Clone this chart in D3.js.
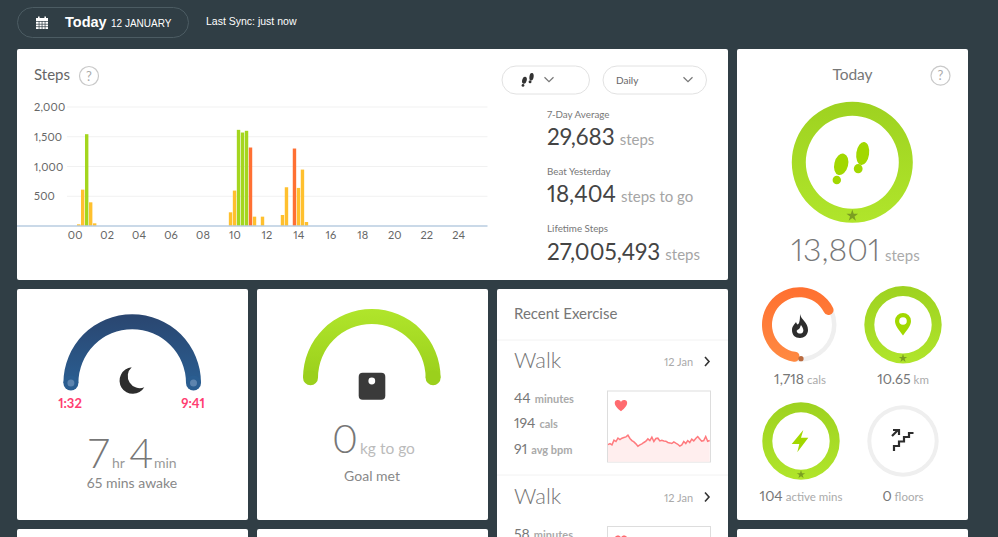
<!DOCTYPE html>
<html>
<head>
<meta charset="utf-8">
<script src="https://cdn.jsdelivr.net/npm/d3@7"></script>
<style>
  html, body { margin: 0; padding: 0; background: #303e45; overflow: hidden; }
  svg { display: block; }
  text { font-family: Lato, "Open Sans", sans-serif; font-variant-numeric: proportional-nums; }
  .head { font-family: "Liberation Sans", Arial, sans-serif; fill: #fff; }
  .axis path, .axis line { stroke: none; }
  .axis text { font-family: Lato, sans-serif; font-size: 11px; fill: #666; letter-spacing: 0.2px; }
</style>
</head>
<body>
<svg id="page" width="998" height="537"></svg>
<script>
// steps per 15 minutes, hour of day on the x axis
var stepHours = [0.25, 0.5, 0.75, 1, 1.25, 9.75, 10, 10.25, 10.5, 10.75, 11, 11.25, 11.75, 13, 13.25, 13.75, 14, 14.25, 14.5];
var stepValues = [28, 611, 1543, 398, 45, 230, 595, 1616, 1571, 1600, 1319, 157, 157, 185, 651, 1302, 640, 948, 67];
var stepTicks = [500, 1000, 1500, 2000];
var hourTicks = [0, 2, 4, 6, 8, 10, 12, 14, 16, 18, 20, 22, 24];

var statLabels = ["7-Day Average", "Beat Yesterday", "Lifetime Steps"];
var statValues = ["29,683", "18,404", "27,005,493"];
var statUnits = ["steps", "steps to go", "steps"];

// heart rate of the first walk
var heartRate = [86.6, 87.9, 86.2, 92.1, 90.4, 94.6, 92.9, 94.6, 95.4, 96.2, 98.3, 94.2, 91.6, 90, 87.5, 84.6, 86.2, 87.5, 89.2, 90.8, 93.7, 91.6, 95.8, 90.4, 94.2, 94.6, 91.2, 92.1, 91.2, 90.8, 89.2, 88.7, 87.9, 90, 88.3, 87, 84.6, 86.2, 90.4, 87.9, 91.6, 89.2, 93.3, 91.2, 94.2, 96.7, 93.7, 90.8, 91.6, 96.7, 90.8, 91.6];

var exerciseNames = ["Walk", "Walk"];
var exerciseDates = ["12 Jan", "12 Jan"];
var exerciseMinutes = ["44", "58"];

var svg = d3.select("#page");
var defs = svg.append("defs");

function gradient(id, top, bottom) {
  var g = defs.append("linearGradient").attr("id", id)
    .attr("x1", 0).attr("y1", 0).attr("x2", 0).attr("y2", 1);
  g.append("stop").attr("offset", "0%").attr("stop-color", top);
  g.append("stop").attr("offset", "100%").attr("stop-color", bottom);
}
gradient("ringGreen", "#9ed220", "#b0e52b");
gradient("ringOrange", "#ff7030", "#ff8a42");
gradient("sleepBlue", "#2a4670", "#2a5d90");
gradient("weightGreen", "#b0e52b", "#9bd01c");

function label(x, y, str, size, color, opts) {
  opts = opts || {};
  return svg.append("text").attr("x", x).attr("y", y).text(str)
    .attr("font-size", size).attr("fill", color)
    .attr("font-weight", opts.weight || 400)
    .attr("letter-spacing", opts.spacing || 0)
    .attr("text-anchor", opts.anchor || "start");
}

function card(x, y, w, h) {
  svg.append("rect").attr("x", x).attr("y", y).attr("width", w).attr("height", h)
    .attr("rx", 2).attr("fill", "#fff");
}

function helpIcon(x, y) {
  svg.append("circle").attr("cx", x).attr("cy", y).attr("r", 9.5)
    .attr("fill", "none").attr("stroke", "#c9c9c9").attr("stroke-width", 1.2);
  label(x, y + 4.5, "?", 13, "#aaa", {anchor: "middle"});
}

function chevron(x, y, s, color, w) {
  svg.append("path")
    .attr("d", d3.line()([[x - s, y - s / 2], [x, y + s / 2], [x + s, y - s / 2]]))
    .attr("fill", "none").attr("stroke", color).attr("stroke-width", w);
}

function feet(x, y, k, color) {
  var g = svg.append("g").attr("transform", "translate(" + x + "," + y + ") scale(" + k + ")").attr("fill", color);
  g.append("ellipse").attr("rx", 6.4).attr("ry", 11.5).attr("transform", "translate(10.7,-10) rotate(8)");
  g.append("ellipse").attr("rx", 4.4).attr("ry", 4.6).attr("transform", "translate(6.2,5.2)");
  g.append("ellipse").attr("rx", 6.9).attr("ry", 11).attr("transform", "translate(-10.8,0.8) rotate(14)");
  g.append("ellipse").attr("rx", 4.2).attr("ry", 4.3).attr("transform", "translate(-15.2,16.5)");
}

function ring(cx, cy, outer, inner, start, end, fill) {
  var gr = svg.append("g").attr("transform", "translate(" + cx + "," + cy + ")");
  gr.append("path")
    .attr("d", d3.arc()({innerRadius: inner, outerRadius: outer, startAngle: start, endAngle: end}))
    .attr("fill", fill);
  return gr;
}

function star(x, y, size) {
  svg.append("path").attr("transform", "translate(" + x + "," + y + ")")
    .attr("d", d3.symbol(d3.symbolStar, size)()).attr("fill", "#7b9e22");
}

function heart(cx, cy) {
  svg.append("path").attr("transform", "translate(" + cx + "," + cy + ") scale(0.62)")
    .attr("d", "M0,10 C-14,0 -11,-8 -5,-8 C-2,-8 0,-6 0,-4 C0,-6 2,-8 5,-8 C11,-8 14,0 0,10 Z")
    .attr("fill", "#ff6b6f");
}

// cards
card(17, 49, 711, 231);
card(17, 289, 231, 231);
card(257, 289, 231, 231);
card(497, 289, 231, 260);
card(737, 49, 231, 471);
card(17, 529, 231, 20);
card(257, 529, 231, 20);
card(737, 529, 231, 20);

// top bar
svg.append("rect").attr("x", 17.5).attr("y", 7.5).attr("width", 171).attr("height", 30).attr("rx", 15)
  .attr("fill", "none").attr("stroke", "#4c5c63");
var cal = svg.append("g").attr("transform", "translate(36,18)");
cal.append("rect").attr("y", 0).attr("width", 12).attr("height", 11).attr("fill", "#fff");
cal.append("rect").attr("x", 2).attr("y", -1.5).attr("width", 1.6).attr("height", 3).attr("fill", "#fff");
cal.append("rect").attr("x", 8.4).attr("y", -1.5).attr("width", 1.6).attr("height", 3).attr("fill", "#fff");
d3.range(1, 4).forEach(function(i) {
  cal.append("rect").attr("x", 0).attr("y", i * 2.6 + 0.6).attr("width", 12).attr("height", 0.7).attr("fill", "#303e45");
  cal.append("rect").attr("x", i * 3 - 0.3).attr("y", 3).attr("width", 0.7).attr("height", 8).attr("fill", "#303e45");
});
svg.append("text").attr("class", "head").attr("x", 65).attr("y", 27).attr("font-size", 14.5).attr("font-weight", 700).text("Today");
svg.append("text").attr("class", "head").attr("x", 111).attr("y", 27).attr("font-size", 10).text("12 JANUARY");
svg.append("text").attr("class", "head").attr("x", 206).attr("y", 25).attr("font-size", 10.5).text("Last Sync: just now");

// steps chart
label(34, 80, "Steps", 15, "#666");
helpIcon(89, 76);

var x = d3.scaleLinear().domain([0, 24]).range([74.7, 458.3]);
var y = d3.scaleLinear().domain([0, 2000]).range([226, 107]);
var barColor = d3.scaleThreshold().domain([1000, 1500]).range(["#ffc02e", "#ff7033", "#a4d61e"]);

svg.append("g").attr("class", "grid").selectAll("line").data(stepTicks).enter().append("line")
  .attr("x1", 67).attr("x2", 487.5)
  .attr("y1", function(d) { return y(d); }).attr("y2", function(d) { return y(d); })
  .attr("stroke", "#f1f1f1");

svg.append("g").selectAll("rect").data(stepValues).enter().append("rect")
  .attr("x", function(d, i) { return x(stepHours[i]) - 1.7; })
  .attr("y", function(d) { return y(d); })
  .attr("width", 3.4)
  .attr("height", function(d) { return y(0) - y(d); })
  .attr("fill", function(d) { return barColor(d); });

svg.append("line").attr("x1", 17).attr("x2", 487.5).attr("y1", 226).attr("y2", 226)
  .attr("stroke", "#b9cce0").attr("stroke-width", 1.5);

var yAxis = svg.append("g").attr("class", "axis").attr("transform", "translate(34,0)")
  .call(d3.axisLeft(y).tickValues(stepTicks).tickSize(0).tickFormat(d3.format(",")));
yAxis.selectAll("text").attr("text-anchor", "start").attr("x", 0);

svg.append("g").attr("class", "axis").attr("transform", "translate(0,227)")
  .call(d3.axisBottom(x).tickValues(hourTicks).tickSize(0).tickPadding(4).tickFormat(d3.format("02d")));

// dropdowns
svg.append("rect").attr("x", 502).attr("y", 66).attr("width", 87.5).attr("height", 28).attr("rx", 14)
  .attr("fill", "#fff").attr("stroke", "#e2e2e2");
svg.append("rect").attr("x", 603).attr("y", 66).attr("width", 103.5).attr("height", 28).attr("rx", 14)
  .attr("fill", "#fff").attr("stroke", "#e2e2e2");
feet(528, 80, 0.33, "#333");
chevron(549, 79.5, 4.5, "#777", 1.2);
label(616, 83.5, "Daily", 10, "#666");
chevron(688, 79.5, 4.5, "#777", 1.2);

// stats
statLabels.forEach(function(name, i) {
  var top = 117.5 + i * 57.3;
  label(547, top, name, 9.8, "#777");
  var v = label(547, top + 27.5, statValues[i], 22.5, "#444");
  var w = v.node().getComputedTextLength();
  label(547 + w + 5, top + 27.5, statUnits[i], 15, "#a5a5a5");
});

// sleep
var sleepArc = d3.arc()({innerRadius: 53.8, outerRadius: 68.8, startAngle: -Math.PI / 2, endAngle: Math.PI / 2});
svg.append("path").attr("transform", "translate(132.2,383)").attr("d", sleepArc).attr("fill", "url(#sleepBlue)");
[70.9, 193.5].forEach(function(cx) {
  svg.append("circle").attr("cx", cx).attr("cy", 383).attr("r", 7.5).attr("fill", "#2a5d90");
  svg.append("circle").attr("cx", cx).attr("cy", 383).attr("r", 3.5).attr("fill", "#5d84ae");
});
svg.append("path").attr("d", "M131.7,367.3 A13.3,13.3 0 1,0 144.3,387.3 A12,12 0 0,1 131.7,367.3 Z").attr("fill", "#2d2d2d");
label(70, 408, "1:32", 13, "#ff3d71", {anchor: "middle", weight: 700});
label(193, 408, "9:41", 13, "#ff3d71", {anchor: "middle", weight: 700});
label(88, 468, "7", 41, "#777", {weight: 300});
label(112, 468, "hr", 14, "#999");
label(129, 468, "4", 41, "#777", {weight: 300});
label(154, 468, "min", 14, "#999");
label(132, 488, "65 mins awake", 14, "#888", {anchor: "middle"});

// weight
var weightArc = d3.arc()({innerRadius: 53.8, outerRadius: 68.8, startAngle: -Math.PI / 2, endAngle: Math.PI / 2});
svg.append("path").attr("transform", "translate(371.8,377.8)").attr("d", weightArc).attr("fill", "url(#weightGreen)");
[310.5, 433.1].forEach(function(cx) {
  svg.append("circle").attr("cx", cx).attr("cy", 377.8).attr("r", 7.5).attr("fill", "#9bd01c");
});
svg.append("rect").attr("x", 358.7).attr("y", 372.7).attr("width", 26.6).attr("height", 27).attr("rx", 4).attr("fill", "#3a3a3a");
svg.append("circle").attr("cx", 371.8).attr("cy", 381).attr("r", 3.4).attr("fill", "#fff");
label(332, 453, "0", 40, "#777", {weight: 300});
label(360, 454, "kg to go", 15.5, "#bbb");
label(372, 481, "Goal met", 14, "#888", {anchor: "middle"});

// recent exercise
label(514, 319, "Recent Exercise", 15, "#777");
svg.append("line").attr("x1", 497).attr("x2", 728).attr("y1", 340).attr("y2", 340).attr("stroke", "#f2f2f2");
svg.append("line").attr("x1", 497).attr("x2", 728).attr("y1", 475).attr("y2", 475).attr("stroke", "#f2f2f2");

exerciseNames.forEach(function(name, i) {
  var dy = i * 135.5;
  label(514, 368 + dy, name, 22, "#777", {weight: 300});
  label(664, 366 + dy, exerciseDates[i], 11, "#aaa");
  svg.append("path").attr("d", d3.line()([[705, 357 + dy], [709, 361.5 + dy], [705, 366 + dy]]))
    .attr("fill", "none").attr("stroke", "#333").attr("stroke-width", 1.6);
  svg.append("rect").attr("x", 607.5).attr("y", 391 + dy).attr("width", 103).attr("height", 71)
    .attr("fill", "#fff").attr("stroke", "#ddd");
  heart(621, 405 + dy);
  var m = label(514, 403 + dy, exerciseMinutes[i], 14, "#777");
  label(514 + m.node().getComputedTextLength() + 4, 403 + dy, "minutes", 11, "#aaa", {weight: 700});
});

var m2 = label(514, 428, "194", 14, "#777");
label(514 + m2.node().getComputedTextLength() + 4, 428, "cals", 11, "#aaa", {weight: 700});
var m3 = label(514, 454, "91", 14, "#777");
label(514 + m3.node().getComputedTextLength() + 4, 454, "avg bpm", 11, "#aaa", {weight: 700});

var hrX = d3.scaleLinear().domain([0, heartRate.length - 1]).range([608, 709.7]);
var hrY = d3.scaleLinear().domain([65, 155]).range([461.8, 390]);
svg.append("path").datum(heartRate)
  .attr("d", d3.area().x(function(d, i) { return hrX(i); }).y0(hrY(65)).y1(function(d) { return hrY(d); }))
  .attr("fill", "#ffeeee");
svg.append("path").datum(heartRate)
  .attr("d", d3.line().x(function(d, i) { return hrX(i); }).y(function(d) { return hrY(d); }))
  .attr("fill", "none").attr("stroke", "#ff7a7e").attr("stroke-width", 1.5);

// today column
label(852.5, 80, "Today", 15.5, "#777", {anchor: "middle"});
helpIcon(940.5, 75.7);
ring(852.3, 162.3, 60.5, 46.5, 0, 2 * Math.PI, "url(#ringGreen)");
star(852.3, 215.7, 42);
feet(852, 163.5, 1, "#a2d800");
var big = label(791, 260.7, "13,801", 32, "#777", {weight: 300});
label(791 + big.node().getComputedTextLength() + 5, 260.7, "steps", 15, "#aaa");

// small rings
var trackArc = d3.arc()({innerRadius: 32.5, outerRadius: 37, startAngle: 0, endAngle: 2 * Math.PI});
svg.append("path").attr("transform", "translate(799.5,324.7)").attr("d", trackArc).attr("fill", "#efefef");
var calsRing = d3.arc().cornerRadius(5)({innerRadius: 27.5, outerRadius: 37.5, startAngle: Math.PI, endAngle: Math.PI * 2.4});
svg.append("path").attr("transform", "translate(799.5,324.7)").attr("d", calsRing).attr("fill", "url(#ringOrange)");
svg.append("circle").attr("cx", 801).attr("cy", 358.7).attr("r", 2.6).attr("fill", "#b96a3f");

ring(903, 324.7, 38.7, 28.7, 0, 2 * Math.PI, "url(#ringGreen)");
star(903, 358.3, 22);
ring(801, 441, 38.7, 28.7, 0, 2 * Math.PI, "url(#ringGreen)");
star(801, 474.5, 22);
ring(903, 441, 35.7, 31.7, 0, 2 * Math.PI, "#efefef");

// flame
svg.append("path").attr("d", "M800,314 C801,320 808,322 808,330 C808,335 804,338 800,338 C795,338 792,335 792,330 C792,326 795,324 796,322 C797,325 798,325 799,323 C800,320 800,317 800,314 Z").attr("fill", "#2d2d2d");
svg.append("path").attr("d", "M801,325 C803,328 804,330 803,332 C802,334 798,334 797,332 C796,330 798,330 799,329 C800,328 800,327 801,325 Z").attr("fill", "#fff");
// pin
svg.append("path").attr("d", "M903,335.5 C899,330 895,326 895,321 A8,8 0 1,1 911,321 C911,326 907,330 903,335.5 Z").attr("fill", "#a2d800");
svg.append("circle").attr("cx", 903).attr("cy", 321).attr("r", 3.8).attr("fill", "#fff");
// bolt
svg.append("path").attr("d", "M803.3,430 L791.7,444 L799.3,444 L797.3,452.3 L808.3,437.7 L801,437.7 Z").attr("fill", "#a2d800");
// stairs
svg.append("path").attr("d", "M894,451 L894,446 L899,446 L899,441.5 L904,441.5 L904,437 L909,437 L909,433 L913.5,433")
  .attr("fill", "none").attr("stroke", "#2d2d2d").attr("stroke-width", 2.2);
svg.append("path").attr("d", "M892,436 L898,430 M893,430 L899,430 L899,435").attr("fill", "none").attr("stroke", "#2d2d2d").attr("stroke-width", 2.2);

function ringLabel(cx, yy, num, unit) {
  var g = svg.append("text").attr("x", cx).attr("y", yy).attr("text-anchor", "middle");
  g.append("tspan").text(num).attr("font-size", 14).attr("fill", "#777");
  g.append("tspan").text(" " + unit).attr("font-size", 11.5).attr("fill", "#aaa");
}
ringLabel(800, 384, "1,718", "cals");
ringLabel(903, 384, "10.65", "km");
ringLabel(801, 500.5, "104", "active mins");
ringLabel(903, 500.5, "0", "floors");
</script>
</body>
</html>
